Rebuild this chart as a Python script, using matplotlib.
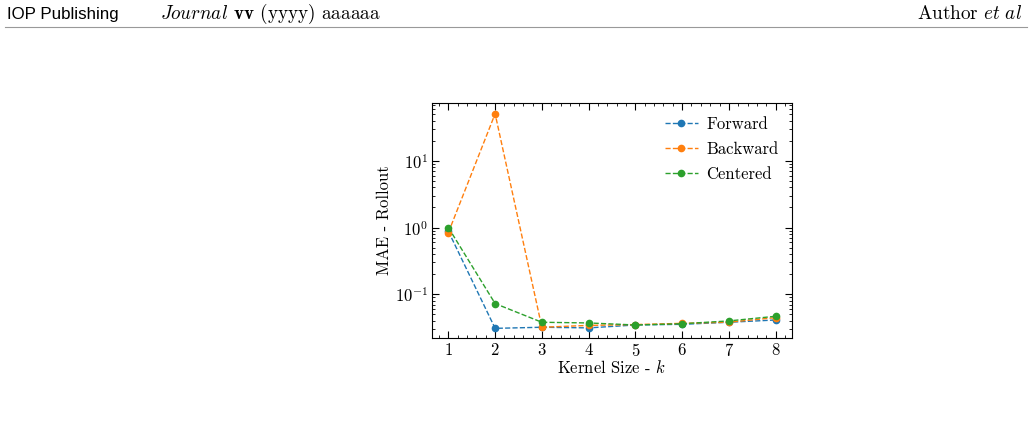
import matplotlib
matplotlib.use("Agg")
import matplotlib.pyplot as plt
from matplotlib.ticker import AutoMinorLocator, LogLocator, NullFormatter
from matplotlib.lines import Line2D

# kernel sizes and rollout MAE per scheme
kernel_size = [1, 2, 3, 4, 5, 6, 7, 8]
mae_forward = [0.88, 0.0307, 0.0319, 0.0312, 0.0345, 0.0353, 0.0379, 0.0410]
mae_backward = [0.84, 51.0, 0.0319, 0.0340, 0.0350, 0.0365, 0.0380, 0.0445]
mae_centered = [1.00, 0.0723, 0.0379, 0.0370, 0.0345, 0.0360, 0.0397, 0.0466]
series_names = ["Forward", "Backward", "Centered"]

plt.rcParams["font.family"] = "serif"
plt.rcParams["font.serif"] = ["cmr10"]
plt.rcParams["mathtext.fontset"] = "cm"
plt.rcParams["axes.formatter.use_mathtext"] = True
plt.rcParams["axes.unicode_minus"] = False

fig = plt.figure(figsize=(10.34, 4.23), dpi=100)

# page header
fig.text(7 / 1034, 1 - 14 / 423, "IOP Publishing", family="Liberation Sans",
         fontsize=12.2, va="center", ha="left")
fig.text(160 / 1034, 1 - 14 / 423, r"$\mathit{Journal}$ $\mathbf{vv}$ (yyyy) aaaaaa",
         fontsize=13.8, va="center", ha="left")
fig.text(1022 / 1034, 1 - 14 / 423, r"Author $\mathit{et\ al}$",
         fontsize=13.8, va="center", ha="right")
fig.add_artist(Line2D([5 / 1034, 1027 / 1034], [1 - 27.5 / 423] * 2,
                      color="#999999", lw=0.8, transform=fig.transFigure))

ax = fig.add_axes([432 / 1034, 85 / 423, 360 / 1034, 235 / 423])

for y, name in zip([mae_forward, mae_backward, mae_centered], series_names):
    ax.plot(kernel_size, y, "--", marker="o", markersize=4.5, lw=1, label=name)

ax.set_yscale("log")
ax.set_xlim(0.65, 8.35)
ax.set_ylim(0.022, 74)
ax.set_xticks(kernel_size)
ax.xaxis.set_minor_locator(AutoMinorLocator(5))
ax.yaxis.set_major_locator(LogLocator(base=10, numticks=10))
ax.yaxis.set_minor_locator(LogLocator(base=10, subs=range(2, 10), numticks=10))
ax.yaxis.set_minor_formatter(NullFormatter())

ax.tick_params(which="both", direction="in", top=True, right=True, labelsize=12)
ax.tick_params(which="major", length=5, width=0.8, pad=3)
ax.tick_params(which="minor", length=2.5, width=0.6)

ax.set_xlabel(r"Kernel Size - $k$", fontsize=12, labelpad=0)
ax.set_ylabel("MAE - Rollout", fontsize=12, labelpad=2)

ax.legend(loc="upper right", frameon=False, fontsize=12, handlelength=2.0,
          handletextpad=0.5, labelspacing=0.6, borderaxespad=0.4)

fig.savefig("out.png", dpi=100)
